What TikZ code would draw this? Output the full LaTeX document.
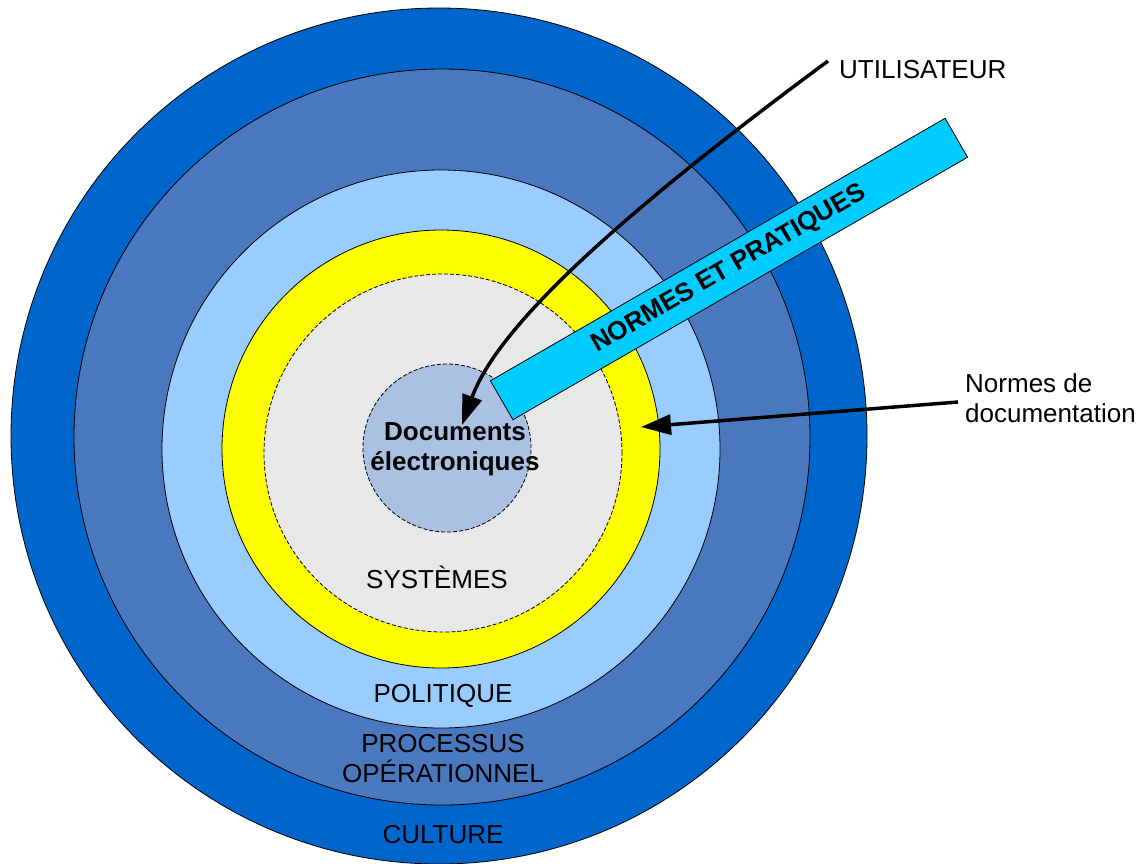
\documentclass[tikz,border=0pt]{standalone}
\usepackage{fontspec}
\setmainfont{Liberation Sans}
\usetikzlibrary{arrows.meta,calc}
\definecolor{culture}{HTML}{0066CC}
\definecolor{processus}{HTML}{4A78BE}
\definecolor{politique}{HTML}{99CCFF}
\definecolor{normes}{HTML}{FFFF00}
\definecolor{systemes}{HTML}{E8E8E8}
\definecolor{documents}{HTML}{ABC1E3}
\definecolor{pratiques}{HTML}{00CCFF}
\tikzset{
	ring/.style={draw=black, line width=0.8pt},
	dashring/.style={ring, dash pattern=on 4pt off 2pt},
	lbl/.style={font=\fontsize{26}{30}\selectfont, align=center, inner sep=0pt},
	pointer/.style={line width=3.5pt, -{Triangle[length=30pt,width=20pt]}},
	bande/.style={draw=black, line width=0.8pt, fill=pratiques, rotate=30, minimum width=525pt, minimum height=45pt, inner sep=0pt, font=\bfseries\fontsize{26}{30}\selectfont}
}

\begin{document}
\begin{tikzpicture}[x=1pt, y=-1pt]
			%%%%% START %%%%%
			\useasboundingbox (0,0) rectangle (1140,863);
			
			\draw[ring, fill=culture] (439,436) circle (428pt);
			\draw[ring, fill=processus] (442,437) circle (368pt);
			\draw[ring, fill=politique] (441,449) circle (279pt);
			\draw[ring, fill=normes] (441,449) circle (219pt);
			\draw[dashring, fill=systemes] (443,453) circle (179pt);
			\draw[dashring, fill=documents] (447,448) circle (84pt);
			
			\node[bande] (pratiques) at (729,269) {NORMES ET PRATIQUES};
			
			\node[lbl, font=\bfseries\fontsize{26}{30}\selectfont] (documents) at (455,449) {Documents\\électroniques};
			\node[lbl] (systemes) at (437,577) {SYSTÈMES};
			\node[lbl] (politique) at (443,696) {POLITIQUE};
			\node[lbl] (processus) at (443,759) {PROCESSUS\\OPÉRATIONNEL};
			\node[lbl] (culture) at (443,835) {CULTURE};
			
			\node[lbl, anchor=west] (utilisateur) at (839,70) {UTILISATEUR};
			\node[lbl, anchor=west, align=left] (normesdoc) at (965,398) {Normes de\\documentation};
			
			\coordinate (user-depart) at (828,61);
			\coordinate (user-cible) at (462,425);
			\coordinate (doc-depart) at (958,402);
			\coordinate (doc-cible) at (641,427);
			
			\draw[pointer] (user-depart) .. controls (640,200) and (500,320) .. (user-cible);
			\draw[pointer] (doc-depart) -- (doc-cible);
			%%%%% END %%%%%
		\end{tikzpicture}
\end{document}
